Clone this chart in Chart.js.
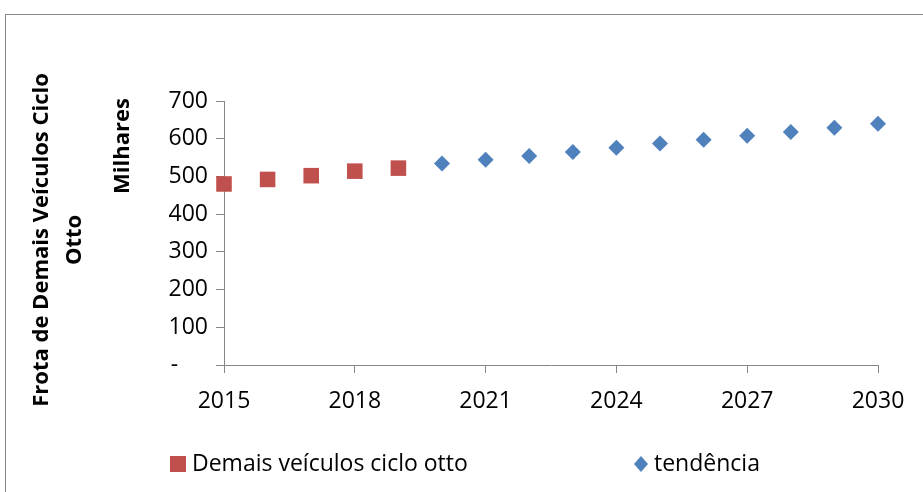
<!DOCTYPE html>
<html>
<head>
<meta charset="utf-8">
<script src="https://cdn.jsdelivr.net/npm/chart.js@4/dist/chart.umd.min.js"></script>
<style>
  html, body { margin: 0; padding: 0; background: #fff; }
  #wrap { position: relative; width: 923px; height: 492px; overflow: hidden; }
  #frame { position: absolute; left: 5px; top: 14px; width: 940px; height: 500px; border: 1px solid #888; }
  #myChart { position: absolute; left: 0; top: 0; }
</style>
</head>
<body>
<div id="wrap">
  <div id="frame"></div>
  <canvas id="myChart" width="923" height="492"></canvas>
</div>
<script>
// data (thousands of vehicles)
const anosHist = [2015, 2016, 2017, 2018, 2019];
const demais = [480, 492, 502, 514, 522];
const anosTend = [2020, 2021, 2022, 2023, 2024, 2025, 2026, 2027, 2028, 2029, 2030];
const tendencia = [534, 544, 554, 565, 576, 587, 597, 608, 618, 629, 640];
const yTicks = [0, 100, 200, 300, 400, 500, 600, 700];
const xTicks = [2015, 2018, 2021, 2024, 2027, 2030];

const FONT = "'Open Sans', 'Liberation Sans', sans-serif";
const RED = '#C0504D';
const BLUE = '#4F81BD';
const AXIS = '#868686';

const seriesNames = ['Demais veículos ciclo otto', 'tendência'];

// titles + legend drawn by hand
const extras = {
  id: 'extras',
  afterDraw(chart) {
    const ctx = chart.ctx;
    const area = chart.chartArea;
    ctx.save();
    ctx.fillStyle = '#000';
    ctx.font = 'bold 22px ' + FONT;
    ctx.textAlign = 'center';
    ctx.textBaseline = 'middle';

    ctx.save();
    ctx.translate(123, area.top + 45);
    ctx.rotate(-Math.PI / 2);
    ctx.fillText('Milhares', 0, 0);
    ctx.restore();

    ctx.save();
    ctx.translate(42, area.top + 139);
    ctx.rotate(-Math.PI / 2);
    ctx.fillText('Frota de Demais Veículos Ciclo', 0, 0);
    ctx.fillText('Otto', 0, 33);
    ctx.restore();

    // legend
    const ly = 464;
    ctx.font = '23px ' + FONT;
    ctx.textAlign = 'left';
    ctx.fillStyle = RED;
    ctx.fillRect(170, ly - 8, 16, 16);
    ctx.fillStyle = BLUE;
    ctx.beginPath();
    ctx.moveTo(641, ly - 8);
    ctx.lineTo(648, ly);
    ctx.lineTo(641, ly + 8);
    ctx.lineTo(634, ly);
    ctx.closePath();
    ctx.fill();
    ctx.fillStyle = '#000';
    ctx.fillText(seriesNames[0], 192, ly);
    ctx.fillText(seriesNames[1], 654, ly);
    ctx.restore();
  }
};

const ctx = document.getElementById('myChart').getContext('2d');
const myChart = new Chart(ctx, {
  type: 'scatter',
  data: {
    datasets: [
      {
        label: seriesNames[0],
        data: anosHist.map((a, i) => ({ x: a, y: demais[i] })),
        backgroundColor: RED,
        borderColor: RED,
        pointStyle: 'rect',
        pointRadius: 11,
        pointHoverRadius: 11,
        borderWidth: 0,
        clip: false,
      },
      {
        label: seriesNames[1],
        data: anosTend.map((a, i) => ({ x: a, y: tendencia[i] })),
        backgroundColor: BLUE,
        borderColor: BLUE,
        pointStyle: 'rectRot',
        pointRadius: 8,
        pointHoverRadius: 8,
        borderWidth: 0,
        clip: false,
      },
    ],
  },
  options: {
    responsive: false,
    animation: false,
    layout: { padding: { left: 0, top: 101, right: 45, bottom: 0 } },
    plugins: {
      legend: { display: false },
      tooltip: { enabled: false },
    },
    scales: {
      x: {
        type: 'linear',
        min: xTicks[0],
        max: xTicks[xTicks.length - 1],
        afterBuildTicks: (scale) => { scale.ticks = xTicks.map((v) => ({ value: v })); },
        afterFit: (scale) => { scale.height = 127; },
        grid: { drawOnChartArea: false, drawTicks: true, tickLength: 8, color: AXIS },
        border: { color: AXIS, width: 1 },
        ticks: {
          color: '#000',
          font: { family: FONT, size: 23 },
          padding: 15,
          maxRotation: 0,
          callback: (v) => String(v),
        },
      },
      y: {
        min: yTicks[0],
        max: yTicks[yTicks.length - 1],
        afterBuildTicks: (scale) => { scale.ticks = yTicks.map((v) => ({ value: v })); },
        afterFit: (scale) => { scale.width = 224; },
        grid: { drawOnChartArea: false, drawTicks: true, tickLength: 8, color: AXIS },
        border: { color: AXIS, width: 1 },
        ticks: {
          color: '#000',
          font: { family: FONT, size: 23 },
          padding: 8,
          callback: (v) => (v === 0 ? '-     ' : String(v)),
        },
      },
    },
  },
  plugins: [extras],
});
</script>
</body>
</html>
